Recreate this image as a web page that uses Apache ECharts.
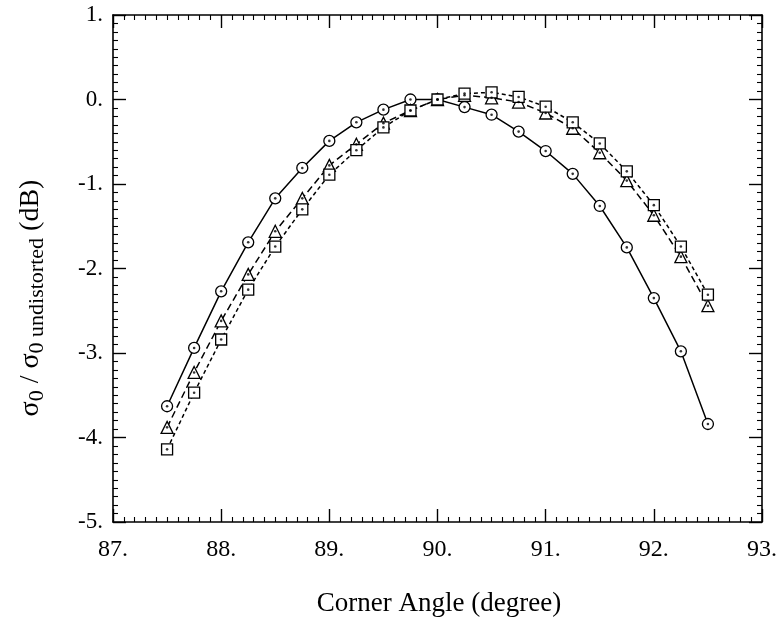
<!DOCTYPE html>
<html>
<head>
<meta charset="utf-8">
<script src="https://cdn.jsdelivr.net/npm/echarts@6/dist/echarts.min.js"></script>
<style>
  html, body { margin: 0; padding: 0; background: #fff; }
  #chart { width: 780px; height: 625px; }
</style>
</head>
<body>
<div id="chart"></div>
<script>
// Corner angles (degrees)
const angles = [87.5, 87.75, 88.0, 88.25, 88.5, 88.75, 89.0, 89.25, 89.5, 89.75,
                90.0, 90.25, 90.5, 90.75, 91.0, 91.25, 91.5, 91.75, 92.0, 92.25, 92.5];

// Normalised RCS (dB) for three cases
const circleSeries = [-3.63, -2.94, -2.27, -1.69, -1.17, -0.81, -0.49, -0.27, -0.12, 0.0,
                      0.0, -0.09, -0.18, -0.38, -0.61, -0.88, -1.26, -1.75, -2.35, -2.98, -3.84];
const triangleSeries = [-3.88, -3.23, -2.62, -2.07, -1.56, -1.17, -0.78, -0.53, -0.28, -0.13,
                        0.0, 0.05, 0.02, -0.03, -0.16, -0.34, -0.63, -0.96, -1.37, -1.86, -2.44];
const squareSeries = [-4.14, -3.47, -2.84, -2.25, -1.74, -1.30, -0.89, -0.60, -0.33, -0.13,
                      0.0, 0.07, 0.085, 0.03, -0.085, -0.27, -0.52, -0.85, -1.25, -1.74, -2.31];

const xTicks = [87, 88, 89, 90, 91, 92, 93];
const yTicks = [-5, -4, -3, -2, -1, 0, 1];

const FONT = '"Liberation Serif", "DejaVu Serif", serif';
const pairs = vals => angles.map((a, i) => [a, vals[i]]);

function mainSeries(vals, symbol, size, dash) {
  return {
    type: 'line',
    data: pairs(vals),
    symbol: symbol,
    symbolSize: size,
    showAllSymbol: true,
    lineStyle: { color: '#000', width: 1.5, type: dash },
    itemStyle: { color: '#fff', borderColor: '#000', borderWidth: 1.3 },
    z: 3,
    animation: false
  };
}
function dotSeries(vals) {
  return {
    type: 'scatter',
    data: pairs(vals),
    symbol: 'circle',
    symbolSize: 2.6,
    itemStyle: { color: '#000' },
    z: 4,
    silent: true,
    animation: false
  };
}

function axis(position, showLabel, min, max, margin, fontSize) {
  return {
    type: 'value',
    position: position,
    min: min,
    max: max,
    interval: 1,
    axisLine: { show: true, onZero: false, lineStyle: { color: '#000', width: 1.6 } },
    axisTick: { show: true, inside: true, length: 13, lineStyle: { color: '#000', width: 1.4 } },
    minorTick: { show: true, splitNumber: 10, length: 5, lineStyle: { color: '#000', width: 1.1 } },
    splitLine: { show: false },
    minorSplitLine: { show: false },
    axisLabel: {
      show: showLabel,
      margin: margin,
      color: '#000',
      fontFamily: FONT,
      fontSize: fontSize,
      formatter: v => String(Math.round(v)) + '.'
    }
  };
}

const xMin = xTicks[0], xMax = xTicks[xTicks.length - 1];
const yMin = yTicks[0], yMax = yTicks[yTicks.length - 1];

const option = {
  backgroundColor: '#fff',
  animation: false,
  grid: { left: 113, right: 18, top: 15, bottom: 103 },
  xAxis: [
    axis('bottom', true, xMin, xMax, 16, 24),
    axis('top', false, xMin, xMax, 8, 24)
  ],
  yAxis: [
    axis('left', true, yMin, yMax, 10, 23),
    axis('right', false, yMin, yMax, 8, 23)
  ],
  series: [
    mainSeries(circleSeries, 'circle', 11, 'solid'),
    mainSeries(triangleSeries, 'triangle', 12, [7, 4]),
    mainSeries(squareSeries, 'rect', 11, [4, 3]),
    dotSeries(circleSeries),
    dotSeries(triangleSeries),
    dotSeries(squareSeries)
  ],
  graphic: [
    {
      type: 'text',
      x: 439,
      y: 604,
      style: {
        text: 'Corner Angle (degree)', font: '27px ' + FONT, fill: '#000',
        align: 'center', verticalAlign: 'middle'
      }
    },
    {
      type: 'text',
      x: 31,
      y: 298,
      rotation: Math.PI / 2,
      style: {
        text: '{a|σ}{s|0}{a| / σ}{s|0 undistorted}{a| (dB)}',
        align: 'center',
        verticalAlign: 'middle',
        rich: {
          a: { fontFamily: FONT, fontSize: 28, fill: '#000', lineHeight: 32, verticalAlign: 'middle' },
          s: { fontFamily: FONT, fontSize: 22, fill: '#000', lineHeight: 32, verticalAlign: 'middle', padding: [12, 0, 0, 0] }
        }
      }
    }
  ]
};

const chart = echarts.init(document.getElementById('chart'), null, { renderer: 'canvas' });
chart.setOption(option);
</script>
</body>
</html>
